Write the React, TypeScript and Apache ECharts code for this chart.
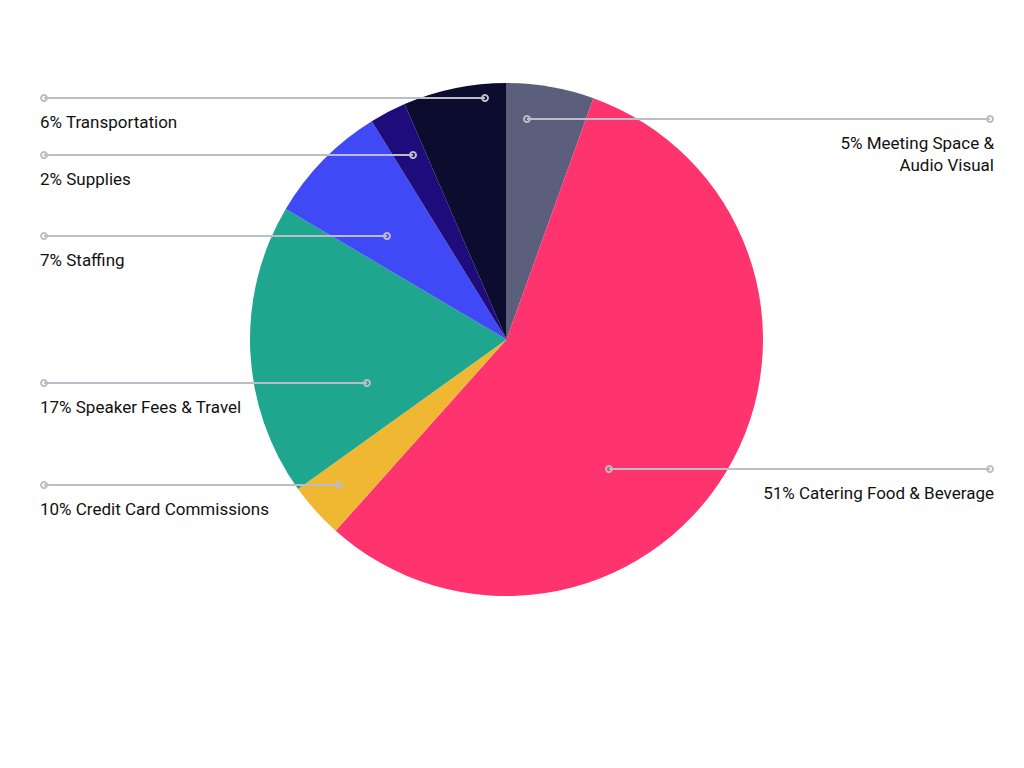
import React, { useEffect, useRef } from "react";
import * as echarts from "echarts";

// Data (slice shares, clockwise from 12 o'clock)
const categories = [
  "Meeting Space & Audio Visual",
  "Catering Food & Beverage",
  "Credit Card Commissions",
  "Speaker Fees & Travel",
  "Staffing",
  "Supplies",
  "Transportation",
];
const sliceValues = [5.5, 56.1, 3.5, 18.4, 7.7, 2.3, 6.5];
const labelTexts = [
  "5% Meeting Space &\nAudio Visual",
  "51% Catering Food & Beverage",
  "10% Credit Card Commissions",
  "17% Speaker Fees & Travel",
  "7% Staffing",
  "2% Supplies",
  "6% Transportation",
];
const colors = ["#5c5f7b", "#ff336e", "#f0b832", "#1fa68f", "#3f49f5", "#1e0b7c", "#0c0c2e"];

// Annotation layout (pixels)
const labelSide = ["right", "right", "left", "left", "left", "left", "left"];
const lineY = [119, 469, 485, 383, 236, 155, 98];
const innerX = [527, 609, 339, 367, 387, 413, 485];

const CX = 506.5;
const CY = 339.5;
const R = 256.5;
const LEFT_X = 44;
const RIGHT_X = 990;
const LINE_COLOR = "#bdbcc9";

export default function App() {
  const ref = useRef<HTMLDivElement>(null);
  useEffect(() => {
    if (!ref.current) return;
    const chart = echarts.init(ref.current, null, { renderer: "svg" });
    const graphics: any[] = [];
    categories.forEach((_, i) => {
      const right = labelSide[i] === "right";
      const outerX = right ? RIGHT_X : LEFT_X;
      const y = lineY[i];
      graphics.push({
        type: "line",
        shape: { x1: innerX[i], y1: y, x2: outerX, y2: y },
        style: { stroke: LINE_COLOR, lineWidth: 2 },
        z: 10,
      });
      [innerX[i], outerX].forEach((x) => {
        graphics.push({
          type: "circle",
          shape: { cx: x, cy: y, r: 3 },
          style: { stroke: LINE_COLOR, lineWidth: 2, fill: "rgba(0,0,0,0)" },
          z: 11,
        });
      });
      graphics.push({
        type: "text",
        x: right ? RIGHT_X + 4 : LEFT_X - 4,
        y: y + 13,
        style: {
          text: labelTexts[i],
          fill: "#111111",
          fontFamily: "Roboto",
          fontSize: 17,
          lineHeight: 22,
          align: right ? "right" : "left",
          verticalAlign: "top",
        },
        z: 12,
      });
    });
    chart.setOption({
      animation: false,
      backgroundColor: "#ffffff",
      graphic: graphics,
      series: [
        {
          type: "pie",
          center: [CX, CY],
          radius: R,
          startAngle: 90,
          clockwise: true,
          label: { show: false },
          labelLine: { show: false },
          emphasis: { disabled: true },
          itemStyle: { borderWidth: 0 },
          data: categories.map((name, i) => ({
            name,
            value: sliceValues[i],
            itemStyle: { color: colors[i] },
          })),
        },
      ],
    });
    return () => chart.dispose();
  }, []);
  return (
    <div
      ref={ref}
      style={{ position: "absolute", left: 0, top: 0, width: 1024, height: 768 }}
    />
  );
}
